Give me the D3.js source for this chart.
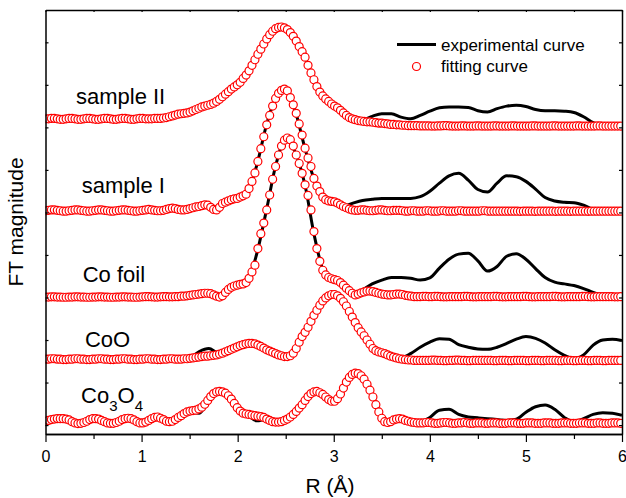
<!DOCTYPE html>
<html>
<head>
<meta charset="utf-8">
<script src="https://cdn.jsdelivr.net/npm/d3@7"></script>
<style>
  body { margin: 0; background: #fff; }
  text { font-family: "Liberation Sans", Arial, sans-serif; }
</style>
</head>
<body>
<div id="graph_draw"></div>
<script>
// ---- data ----
// fitted curves are sampled on the FT grid (dR ~ 0.0307 A), experimental ones every 0.1 A
var rStep = 0.0307;
var expStep = 0.1;

var seriesNames = ["sample II", "sample I", "Co foil", "CoO", "Co3O4"];
var offsets = [70, 50, 30, 15, 0];   // vertical shift of each curve (a.u.)

var fitSampleII = [
  2.0,2.0,2.1,2.1,2.0,1.9,1.9,2.0,2.1,2.1,
  2.0,1.9,1.9,2.0,2.1,2.1,2.0,1.9,1.9,2.0,
  2.1,2.1,2.0,1.9,1.9,2.0,2.1,2.1,2.0,1.9,
  1.9,2.0,2.1,2.1,2.0,2.0,2.0,2.1,2.1,2.1,
  2.2,2.3,2.5,2.7,2.9,3.1,3.2,3.3,3.4,3.6,
  3.9,4.2,4.5,4.8,5.0,5.2,5.4,5.7,6.1,6.6,
  7.2,7.8,8.4,9.0,9.5,10.0,10.6,11.5,12.3,13.3,
  14.6,15.9,17.2,18.4,19.6,20.8,21.8,22.6,23.2,23.5,
  23.6,23.4,23.0,22.3,21.4,20.3,19.0,17.8,16.5,14.6,
  12.8,11.2,9.6,8.3,7.4,6.7,6.1,5.5,5.0,4.6,
  4.0,3.4,2.8,2.3,2.0,1.8,1.6,1.5,1.4,1.3,
  1.3,1.2,1.1,1.0,1.0,0.9,0.8,0.7,0.7,0.6,
  0.6,0.5,0.5,0.4,0.4,0.4,0.4,0.35,0.35,0.35,
  0.35,0.3,0.3,0.35,0.35,0.4,0.4,0.35,0.3,0.3,
  0.3,0.35,0.35,0.3,0.3,0.3,0.35,0.35,0.3,0.3,
  0.3,0.3,0.35,0.35,0.3,0.3,0.3,0.3,0.35,0.35,
  0.3,0.3,0.3,0.3,0.3,0.35,0.35,0.3,0.3,0.3,
  0.3,0.3,0.35,0.35,0.3,0.3,0.3,0.3,0.3,0.3,
  0.35,0.35,0.3,0.3,0.3,0.3,0.3,0.35,0.35,0.3,
  0.3,0.3,0.3,0.3,0.3,0.3
];
var fitSampleI = [
  0.4,0.5,0.6,0.6,0.5,0.4,0.3,0.3,0.4,0.5,
  0.6,0.6,0.5,0.4,0.3,0.3,0.4,0.5,0.6,0.6,
  0.5,0.4,0.3,0.3,0.4,0.5,0.6,0.6,0.5,0.4,
  0.3,0.3,0.4,0.5,0.6,0.7,0.6,0.5,0.4,0.4,
  0.5,0.7,0.9,1.0,0.9,0.7,0.6,0.6,0.7,0.9,
  1.1,1.3,1.4,1.6,1.8,1.7,1.2,0.7,0.6,1.2,
  2.1,2.4,2.7,3.0,3.2,3.3,3.6,3.9,4.3,5.6,
  7.3,9.3,12.0,15.0,17.8,20.6,22.8,25.0,26.8,28.0,
  28.7,29.0,28.6,27.0,25.3,23.3,20.8,18.2,15.1,12.8,
  10.8,8.0,6.2,4.9,3.6,3.0,2.7,2.6,2.5,2.2,
  1.8,1.4,1.1,0.8,0.6,0.5,0.5,0.6,0.6,0.5,
  0.4,0.4,0.5,0.6,0.6,0.5,0.4,0.4,0.5,0.5,
  0.5,0.4,0.3,0.3,0.4,0.4,0.3,0.3,0.3,0.4,
  0.4,0.3,0.3,0.3,0.4,0.4,0.3,0.3,0.3,0.3,
  0.4,0.4,0.3,0.3,0.3,0.3,0.3,0.3,0.4,0.4,
  0.3,0.3,0.3,0.3,0.3,0.3,0.3,0.3,0.3,0.3,
  0.3,0.25,0.3,0.3,0.3,0.3,0.25,0.3,0.3,0.3,
  0.3,0.3,0.3,0.25,0.3,0.3,0.3,0.3,0.25,0.3,
  0.3,0.3,0.3,0.3,0.25,0.3,0.3,0.3,0.3,0.3,
  0.3,0.3,0.3,0.3,0.3,0.3
];
var fitCoFoil = [
  0.1,0.1,0.15,0.15,0.1,0.1,0.05,0.05,0.1,0.1,
  0.15,0.15,0.1,0.1,0.05,0.05,0.1,0.1,0.15,0.15,
  0.1,0.1,0.05,0.05,0.1,0.1,0.15,0.15,0.1,0.1,
  0.05,0.05,0.1,0.15,0.2,0.2,0.15,0.1,0.1,0.15,
  0.2,0.2,0.15,0.15,0.2,0.2,0.3,0.3,0.4,0.5,
  0.6,0.7,0.8,0.9,1.0,1.0,0.9,0.6,0.3,0.1,
  0.4,1.2,1.9,2.4,2.7,2.9,3.1,3.2,3.5,4.5,
  6.0,7.6,11.5,15.0,17.5,20.6,24.1,27.8,30.8,33.5,
  35.6,37.0,37.5,37.1,35.6,33.5,31.5,29.2,26.5,24.0,
  20.6,15.5,11.5,8.5,6.4,5.3,4.7,4.4,4.2,4.0,
  3.5,2.9,2.2,1.6,1.0,0.6,0.8,1.1,1.3,1.5,
  1.5,1.4,1.2,1.0,0.8,0.7,0.6,0.6,0.7,0.8,
  0.8,0.7,0.5,0.4,0.3,0.2,0.2,0.2,0.25,0.25,
  0.2,0.2,0.25,0.25,0.2,0.15,0.15,0.2,0.2,0.2,
  0.2,0.2,0.25,0.25,0.2,0.15,0.15,0.2,0.2,0.2,
  0.2,0.2,0.25,0.25,0.2,0.15,0.15,0.2,0.2,0.2,
  0.2,0.2,0.25,0.25,0.2,0.15,0.15,0.2,0.2,0.2,
  0.2,0.2,0.25,0.25,0.2,0.15,0.15,0.2,0.2,0.2,
  0.2,0.2,0.25,0.25,0.2,0.15,0.15,0.2,0.2,0.2,
  0.2,0.2,0.2,0.15,0.15,0.2
];
var fitCoO = [
  0.5,0.5,0.6,0.6,0.5,0.5,0.4,0.4,0.5,0.5,
  0.6,0.6,0.5,0.5,0.4,0.4,0.5,0.5,0.6,0.6,
  0.5,0.5,0.4,0.4,0.5,0.5,0.6,0.6,0.5,0.5,
  0.4,0.4,0.5,0.5,0.6,0.6,0.5,0.5,0.4,0.4,
  0.5,0.5,0.6,0.6,0.5,0.5,0.5,0.6,0.6,0.7,
  0.8,0.9,1.0,1.1,1.2,1.2,1.3,1.4,1.5,1.7,
  1.9,2.2,2.5,2.8,3.1,3.4,3.7,3.9,4.1,4.2,
  4.2,4.1,3.8,3.5,3.1,2.7,2.4,2.1,1.8,1.5,
  1.3,1.1,1.1,1.3,1.9,3.0,4.5,5.8,6.8,8.0,
  9.4,10.8,12.0,13.2,14.2,14.9,15.4,15.7,15.7,15.4,
  14.8,14.0,13.0,11.7,10.4,9.1,7.9,6.9,6.0,5.0,
  4.0,3.0,2.5,2.2,2.0,1.8,1.5,1.2,1.0,0.8,
  0.6,0.5,0.4,0.3,0.3,0.2,0.2,0.2,0.2,0.2,
  0.2,0.25,0.25,0.2,0.2,0.15,0.15,0.2,0.2,0.25,
  0.25,0.2,0.2,0.15,0.15,0.2,0.2,0.2,0.2,0.2,
  0.2,0.2,0.15,0.15,0.2,0.2,0.2,0.15,0.15,0.2,
  0.2,0.2,0.2,0.15,0.15,0.2,0.2,0.2,0.15,0.15,
  0.2,0.2,0.2,0.2,0.15,0.15,0.2,0.2,0.2,0.15,
  0.15,0.2,0.2,0.2,0.15,0.15,0.2,0.2,0.2,0.15,
  0.15,0.2,0.2,0.2,0.2,0.2
];
var fitCo3O4 = [
  0.9,1.1,1.3,1.4,1.5,1.5,1.5,1.4,1.2,0.8,
  0.5,0.35,0.4,0.6,0.9,1.3,1.5,1.5,1.4,1.1,
  0.8,0.5,0.4,0.4,0.6,0.9,1.3,1.5,1.6,1.5,
  1.2,0.8,0.5,0.5,0.7,1.1,1.5,1.8,1.9,1.6,
  1.3,0.9,0.8,0.9,1.3,1.8,2.2,2.7,3.1,3.3,
  3.4,3.5,3.8,4.2,4.9,5.8,6.7,7.4,7.8,7.9,
  7.8,7.5,6.9,6.1,5.1,4.1,3.3,2.8,2.6,2.5,
  2.35,2.2,2.1,2.0,1.8,1.4,1.1,0.8,0.7,0.7,
  0.8,1.1,1.4,1.9,2.5,3.2,4.0,4.8,5.8,6.7,
  7.4,7.8,7.9,7.6,7.2,6.6,6.0,5.6,5.6,6.2,
  7.3,8.7,10.1,11.2,11.9,12.2,12.1,11.6,10.8,9.6,
  8.2,6.6,4.8,3.1,1.6,0.8,0.6,0.8,1.2,1.4,
  1.5,1.4,1.1,0.9,0.7,0.6,0.5,0.5,0.5,0.6,
  0.6,0.5,0.4,0.4,0.5,0.6,0.6,0.5,0.4,0.4,
  0.5,0.5,0.6,0.5,0.4,0.4,0.5,0.5,0.5,0.4,
  0.4,0.5,0.5,0.5,0.4,0.4,0.4,0.5,0.5,0.5,
  0.4,0.4,0.4,0.5,0.5,0.5,0.4,0.4,0.4,0.5,
  0.5,0.5,0.4,0.4,0.4,0.5,0.5,0.5,0.4,0.4,
  0.4,0.5,0.5,0.5,0.4,0.4,0.4,0.5,0.5,0.4,
  0.4,0.4,0.5,0.5,0.5,0.4
];

var expSampleII = [
  2.0,2.1,1.9,2.1,2.0,1.9,2.0,1.9,2.0,2.0,
  2.0,2.0,2.1,2.6,3.1,3.6,4.5,5.2,6.3,8.2,
  10.0,12.7,16.8,20.8,23.3,23.2,20.6,16.5,10.7,7.0,
  5.1,3.4,2.0,1.8,2.6,3.2,3.2,2.4,2.0,2.8,
  3.8,4.6,4.8,4.8,4.7,3.9,3.6,4.4,5.0,5.2,
  4.9,4.2,3.9,3.9,3.8,3.5,2.5,1.1,0.4,0.4,
  0.4
];
var expSampleI = [
  0.4,0.6,0.3,0.5,0.4,0.4,0.6,0.3,0.6,0.4,
  0.45,0.6,0.4,0.95,0.6,0.9,1.45,1.4,0.75,2.7,
  3.35,4.8,11.2,20.6,27.0,28.8,23.8,15.1,7.5,3.3,
  2.5,1.5,2.2,2.8,3.1,3.3,3.3,3.3,3.3,3.7,
  5.0,6.9,8.6,9.2,7.6,5.4,4.8,6.9,8.6,8.4,
  7.3,5.5,3.5,2.7,2.4,2.3,1.7,0.7,0.4,0.3,
  0.3
];
var expCoFoil = [
  0.1,0.1,0.1,0.1,0.1,0.1,0.1,0.1,0.1,0.1,
  0.1,0.1,0.1,0.1,0.2,0.5,0.8,0.95,0.15,1.85,
  2.9,3.9,10.4,20.6,31.4,37.2,34.1,26.5,14.3,5.9,
  4.25,2.9,1.0,1.8,3.2,4.1,4.7,4.7,4.5,4.1,
  4.6,6.9,9.0,10.2,10.4,8.6,6.2,7.3,9.7,10.3,
  9.0,6.8,4.7,3.6,3.2,2.8,2.1,1.2,0.5,0.2,
  0.2
];
var expCoO = [
  0.5,0.5,0.5,0.5,0.5,0.5,0.5,0.5,0.5,0.5,
  0.5,0.5,0.5,0.5,0.6,0.8,2.3,3.0,2.0,2.4,
  3.5,4.1,3.9,2.7,1.7,1.1,2.8,6.8,11.1,14.6,
  15.7,14.0,10.2,6.3,3.2,2.0,1.1,0.9,1.8,3.3,
  4.5,5.3,5.2,3.9,3.3,2.9,2.8,3.3,4.2,5.2,
  5.8,5.4,4.3,2.7,1.4,0.6,1.5,3.8,5.0,5.2,
  4.9
];
var expCo3O4 = [
  0.9,1.45,1.45,0.55,0.6,1.5,0.9,0.4,1.3,1.4,
  0.5,1.45,1.6,0.85,2.0,3.0,2.8,5.8,7.9,6.9,
  4.0,2.5,1.0,1.4,0.7,1.25,3.1,5.8,7.8,6.9,
  5.6,8.7,12.0,11.2,7.2,2.2,0.7,1.2,0.6,0.8,
  1.8,3.5,3.7,2.5,1.9,1.7,1.5,1.3,1.1,1.4,
  3.0,4.3,4.7,3.7,1.8,0.7,1.5,2.5,2.9,2.8,
  2.3
];

var xTicks = [0, 1, 2, 3, 4, 5, 6];
var xMinorTicks = [0.5, 1.5, 2.5, 3.5, 4.5, 5.5];
var yTicks = [0, 10, 20, 30, 40, 50, 60, 70, 80, 90];
var legendLabels = ["experimental curve", "fitting curve"];

var fits = [fitSampleII, fitSampleI, fitCoFoil, fitCoO, fitCo3O4];
var exps = [expSampleII, expSampleI, expCoFoil, expCoO, expCo3O4];
// where each name sits (R, a.u. of its baseline text)
var labelAt = [[0.317, 75.5], [0.377, 54.5], [0.387, 33.7], [0.411, 18.4], [0.37, 5.1]];

// ---- chart ----
var W = 626, H = 498;
var margin = {top: 10, right: 4, bottom: 64, left: 45.5},
    width = W - margin.left - margin.right,
    height = H - margin.top - margin.bottom;

var root = d3.select("#graph_draw").append("svg")
    .attr("width", W)
    .attr("height", H);
var svg = root.append("g")
    .attr("transform", "translate(" + margin.left + "," + margin.top + ")");

var x = d3.scaleLinear().domain([0, 6]).range([0, width]);
var y = d3.scaleLinear().domain([-2.1, 97.6]).range([height, 0]);

svg.append("clipPath").attr("id", "clip")
  .append("rect").attr("width", width).attr("height", height);
var plot = svg.append("g").attr("clip-path", "url(#clip)");

var line = d3.line()
    .x(function(d) { return x(d[0]); })
    .y(function(d) { return y(d[1]); })
    .curve(d3.curveMonotoneX);

// experimental curves (black lines) go underneath
exps.forEach(function(arr, k) {
  var pts = arr.map(function(v, i) { return [i * expStep, v + offsets[k]]; });
  plot.append("path")
    .datum(pts)
    .attr("fill", "none")
    .attr("stroke", "#000")
    .attr("stroke-width", 3)
    .attr("d", line);
});

// fitted curves as open red circles, left to right
fits.forEach(function(arr, k) {
  plot.append("g").selectAll("circle")
    .data(arr)
    .enter().append("circle")
    .attr("cx", function(v, i) { return x(i * rStep); })
    .attr("cy", function(v) { return y(v + offsets[k]); })
    .attr("r", 4)
    .attr("fill", "#fff")
    .attr("stroke", "#ff0000")
    .attr("stroke-width", 1.2);
});

// axes
var axB = svg.append("g")
    .attr("transform", "translate(0," + height + ")")
    .call(d3.axisBottom(x).tickValues(xTicks).tickSize(8).tickPadding(8.5)
      .tickFormat(d3.format("d")).tickSizeOuter(0));
svg.append("g")
    .attr("transform", "translate(0," + height + ")")
    .call(d3.axisBottom(x).tickValues(xMinorTicks).tickSize(5).tickFormat("").tickSizeOuter(0));
svg.append("g")
    .call(d3.axisTop(x).tickValues(xTicks.concat(xMinorTicks)).tickSize(-2).tickFormat("").tickSizeOuter(0));
svg.append("g")
    .call(d3.axisLeft(y).tickValues(yTicks).tickSize(-3).tickFormat("").tickSizeOuter(0));
svg.append("g")
    .attr("transform", "translate(" + width + ",0)")
    .call(d3.axisRight(y).tickValues(yTicks).tickSize(-3).tickFormat("").tickSizeOuter(0));

svg.selectAll(".domain").attr("stroke", "#000").attr("stroke-width", 1.5);
svg.selectAll(".tick line").attr("stroke", "#000").attr("stroke-width", 1.2);
axB.selectAll("text")
    .attr("font-family", "Liberation Sans, Arial, sans-serif")
    .attr("font-size", 16)
    .attr("fill", "#000");

// axis titles
root.append("text")
    .attr("x", 330).attr("y", 493)
    .attr("text-anchor", "middle")
    .attr("font-size", 21)
    .text("R (\u00C5)");
root.append("text")
    .attr("transform", "translate(23," + (margin.top + height / 2) + ") rotate(-90)")
    .attr("text-anchor", "middle")
    .attr("font-size", 21)
    .text("FT magnitude");

// curve names
seriesNames.forEach(function(name, k) {
  var t = svg.append("text")
      .attr("x", x(labelAt[k][0]))
      .attr("y", y(labelAt[k][1]))
      .attr("font-size", 22)
      .attr("fill", "#000");
  if (name === "Co3O4") {
    t.append("tspan").text("Co");
    t.append("tspan").attr("dy", 8).attr("font-size", 15).text("3");
    t.append("tspan").attr("dy", -8).text("O");
    t.append("tspan").attr("dy", 8).attr("font-size", 15).text("4");
  } else {
    t.text(name);
  }
});

// legend
var lg = root.append("g");
lg.append("line")
    .attr("x1", 397).attr("x2", 436).attr("y1", 44.5).attr("y2", 44.5)
    .attr("stroke", "#000").attr("stroke-width", 3);
lg.append("circle")
    .attr("cx", 416.5).attr("cy", 66.5).attr("r", 4)
    .attr("fill", "#fff").attr("stroke", "#ff0000").attr("stroke-width", 1.2);
lg.selectAll("text.leg")
    .data(legendLabels)
    .enter().append("text")
    .attr("class", "leg")
    .attr("x", 441)
    .attr("y", function(d, i) { return 50.5 + i * 21.5; })
    .attr("font-size", 17)
    .text(function(d) { return d; });
</script>
</body>
</html>
